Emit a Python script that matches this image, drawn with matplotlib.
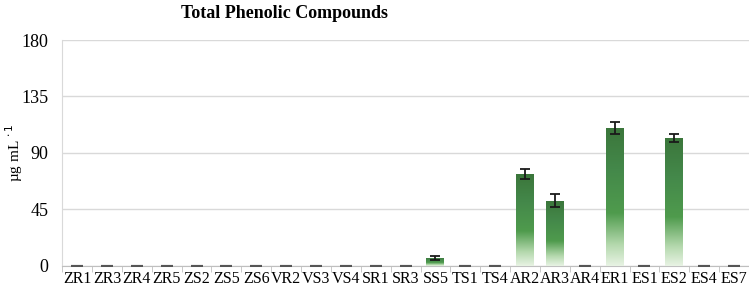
import numpy as np
import matplotlib
matplotlib.use("Agg")
import matplotlib.pyplot as plt
from matplotlib.colors import LinearSegmentedColormap
from matplotlib.patches import Rectangle

categories = ["ZR1", "ZR3", "ZR4", "ZR5", "ZS2", "ZS5", "ZS6", "VR2", "VS3", "VS4",
              "SR1", "SR3", "SS5", "TS1", "TS4", "AR2", "AR3", "AR4", "ER1", "ES1",
              "ES2", "ES4", "ES7"]
values = [0, 0, 0, 0, 0, 0, 0, 0, 0, 0, 0, 0, 6.5, 0, 0, 73, 52, 0, 110, 0, 102, 0, 0]
errors = [0, 0, 0, 0, 0, 0, 0, 0, 0, 0, 0, 0, 1.5, 0, 0, 4, 5, 0, 5, 0, 3.5, 0, 0]
yticks = [0, 45, 90, 135, 180]

plt.rcParams['font.family'] = ['Liberation Serif', 'DejaVu Serif']

fig = plt.figure(figsize=(7.49, 2.9), dpi=100)
ax = fig.add_axes([0.083, 0.083, 0.917, 0.779])

x = np.arange(len(categories))
width = 0.6
ax.set_xlim(-0.5, len(categories) - 0.5)
ax.set_ylim(0, 180)

cmap = LinearSegmentedColormap.from_list(
    "g", [(0.0, "#e8f3e4"), (0.15, "#b5d9ae"), (0.38, "#4f9b4d"), (0.7, "#44884a"), (1.0, "#3b763b")])
grad = np.linspace(0, 1, 256).reshape(-1, 1)

bars = ax.bar(x, values, width=width, color="none", edgecolor="none", zorder=3)
for b, v in zip(bars, values):
    if v <= 0:
        continue
    bx, by = b.get_x(), b.get_y()
    im = ax.imshow(grad, cmap=cmap, origin="lower", aspect="auto",
                   extent=[bx, bx + b.get_width(), by, by + b.get_height()], zorder=3)
    clip = Rectangle((bx, by), b.get_width(), b.get_height(), transform=ax.transData)
    im.set_clip_path(clip)

pos = [e > 0 for e in errors]
ax.errorbar(x[pos], np.array(values)[pos], yerr=np.array(errors)[pos], fmt="none",
            ecolor="#1a1a1a", elinewidth=1.3, capsize=3.5, capthick=1.3, zorder=4)
zero = [not p for p in pos]
ax.errorbar(x[zero], np.array(values)[zero], yerr=0.001, fmt="none",
            ecolor="#555555", elinewidth=1.0, capsize=4, capthick=1.5, zorder=4)

ax.set_yticks(yticks)
ax.grid(axis="y", color="#d9d9d9", linewidth=1, zorder=0)
ax.set_axisbelow(True)
ax.set_xticks(x)
ax.set_xticklabels(categories, fontsize=11.5)
ax.tick_params(axis="x", length=0, pad=4)
ax.set_xticks(np.arange(-0.5, len(categories), 1), minor=True)
ax.tick_params(axis="x", which="minor", length=4, color="#bfbfbf")
ax.tick_params(axis="y", length=0, labelsize=13, pad=10)
for s in ["top", "right"]:
    ax.spines[s].set_visible(False)
ax.spines["left"].set_color("#d9d9d9")
ax.spines["bottom"].set_color("#bfbfbf")
ax.set_ylabel(r"µg mL$^{\,\cdot1}$", fontsize=11)
ax.yaxis.set_label_coords(-0.054, 0.5)
fig.text(0.38, 0.955, "Total Phenolic Compounds", ha="center", va="center",
         fontsize=13, fontweight="bold")

fig.savefig("out.png", dpi=100)
